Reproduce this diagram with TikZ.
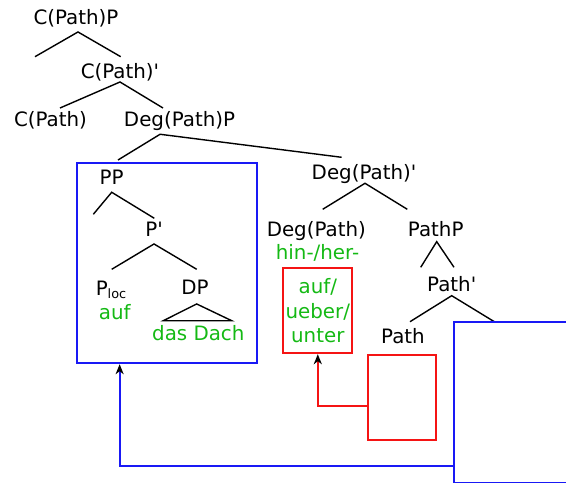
\documentclass[tikz,border=0pt]{standalone}
\usepackage{fontspec}
\setmainfont{DejaVu Sans}
\usetikzlibrary{arrows.meta}

\definecolor{lexgreen}{RGB}{20,185,20}
\definecolor{boxblue}{RGB}{25,25,245}
\definecolor{boxred}{RGB}{245,20,20}

\tikzset{
  branch/.style={line width=1.4bp},
  lex/.style={text=lexgreen},
  movebox/.style={draw, line width=1.8bp, inner sep=0},
  movearrow/.style={line width=1.8bp, -{Stealth[length=10bp,width=8bp,inset=3bp,black]}},
}

\begin{document}
\begin{tikzpicture}[x=1bp,y=-1bp,font=\fontsize{19.9}{24.5}\selectfont]
\useasboundingbox (0,0) rectangle (566,483);
\clip (0,0) rectangle (566,483);

\begin{scope}[every node/.style={anchor=base, inner sep=0}]
    \node (cpp) at (76,24.3) {C(Path)P};
    \node (cbar) at (120,79) {C(Path)\textquotesingle};
    \node (cpath) at (50.5,126.7) {C(Path)};
    \node (degp) at (179.5,126.7) {Deg(Path)P};
    \node (pp) at (111.7,184.3) {PP};
    \node (pbar) at (154,236) {P\textquotesingle};
    \node (ploc) at (111,295.5) {P\raisebox{-3bp}{\fontsize{12.9}{13}\selectfont loc}};
    \node[lex] (auf) at (114.7,319.3) {auf};
    \node (dp) at (195,294.5) {DP};
    \node[lex] (dach) at (198.3,340.7) {das Dach};
    \node (degbar) at (364,179.3) {Deg(Path)\textquotesingle};
    \node (deg) at (316.3,236) {Deg(Path)};
    \node[lex] (hin) at (317.5,259.5) {hin-/her-};
    \node (pathp) at (435.7,236) {PathP};
    \node (pathbar) at (451.7,291.7) {Path\textquotesingle};
    \node (path) at (403,343.3) {Path};
\end{scope}

% loose ends of the branches
\coordinate (cppL) at (35,56.7);
\coordinate (cppR) at (120.7,56.7);
\coordinate (cbarL) at (60,108);
\coordinate (cbarR) at (163,108);
\coordinate (degpL) at (118,160);
\coordinate (degpR) at (341.7,157.3);
\coordinate (ppL) at (93.3,214.3);
\coordinate (ppR) at (154.3,218.3);
\coordinate (pbarL) at (111.7,269.3);
\coordinate (pbarR) at (196.7,269.3);
\coordinate (dpL) at (163.3,320.7);
\coordinate (dpR) at (231.7,320.7);
\coordinate (degbarL) at (322.7,209.3);
\coordinate (degbarR) at (407.3,209.3);
\coordinate (pathpL) at (420.7,267.3);
\coordinate (pathpR) at (454,267.3);
\coordinate (pathbarL) at (410,321.7);
\coordinate (pathbarR) at (494.3,321.7);

\draw[branch] (cppL) -- ([xshift=2,yshift=-7.7]cpp.base) -- (cppR);
\draw[branch] (cbarL) -- ([yshift=-3]cbar.base) -- (cbarR);
\draw[branch] (degpL) -- ([xshift=-19.5,yshift=-7.6]degp.base) -- (degpR);
\draw[branch] (ppL) -- ([yshift=-8]pp.base) -- (ppR);
\draw[branch] (pbarL) -- ([yshift=-8]pbar.base) -- (pbarR);
\draw[branch] (dpL) -- ([xshift=1.7,yshift=-9.5]dp.base) -- (dpR) -- cycle;
\draw[branch] (degbarL) -- ([xshift=1,yshift=-4]degbar.base) -- (degbarR);
\draw[branch] (pathpL) -- ([xshift=1,yshift=-5.7]pathp.base) -- (pathpR);
\draw[branch] (pathbarL) -- ([yshift=-4]pathbar.base) -- (pathbarR);

% boxes for the moved material
\node[movebox, draw=boxblue, minimum width=180.6bp, minimum height=200bp] (ppbox) at (167,263.3) {};
\node[movebox, draw=boxred, lex, align=center, minimum width=69bp, minimum height=85bp] (degbox) at (317.8,310.8) {auf/\\ueber/\\unter};
\node[movebox, draw=boxred, minimum width=68.3bp, minimum height=85bp] (pathbox) at (401.9,397.5) {};
\node[movebox, draw=boxblue, minimum width=140bp, minimum height=161.6bp, anchor=north west] (pathbarbox) at (453.3,320.7) {};

\draw[movearrow, boxred] ([yshift=-8.8]pathbox.west) -| (degbox.south);
\draw[movearrow, boxblue] ([yshift=-64.2]pathbarbox.west) -| ([xshift=44]ppbox.south west);
\end{tikzpicture}
\end{document}
